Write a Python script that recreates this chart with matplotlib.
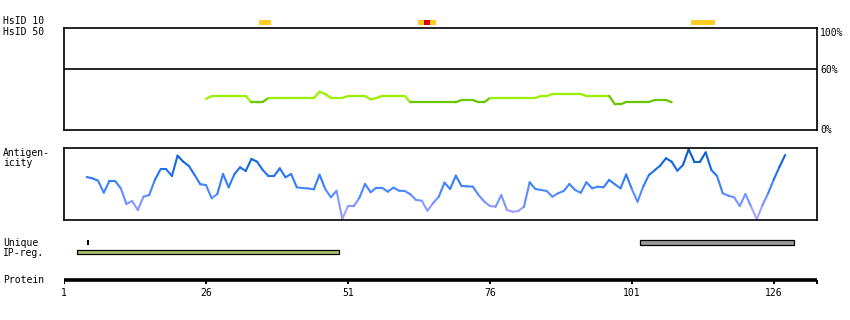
import numpy as np
import matplotlib
matplotlib.use('Agg')
import matplotlib.pyplot as plt
from matplotlib.collections import LineCollection
from matplotlib.colors import LinearSegmentedColormap, Normalize
from matplotlib.patches import Rectangle

# ---------------- data ----------------
protein_len = 133
x_end = 133.6
tick_positions = [1, 26, 51, 76, 101, 126]

# HsID 10 hits (residue intervals)
hsid10_low = [(35.3, 37.4), (63.3, 66.5), (111.4, 115.6)]
hsid10_high = [(64.4, 65.4)]

# HsID 50 identity (%) for residues 26..108
hsid50_start = 26
hsid50_values = [30.4] + [33.3] * 7 + [27.2, 27.2, 27.5] + [31.4] * 9 + [37.5, 35.3] \
    + [31.4] * 3 + [33.3] * 4 + [30.0, 31.4] + [33.3] * 5 + [27.2] * 9 + [29.4] * 3 \
    + [27.2] * 2 + [31.4] * 9 + [33.3] * 2 + [35.3] * 6 + [33.3] * 5 + [25.2] * 2 \
    + [27.5] * 5 + [29.4] * 3 + [27.2]
hsid50_threshold = 29.8

# Antigenicity (0-100 scale) for residues 5..128
antigen_start = 5
antigen_values = [
    59.7, 57.9, 54.6, 37.9, 54.2, 54.2, 44.0, 22.2, 26.4, 13.9,
    32.4, 34.7, 55.6, 70.4, 70.4, 61.1, 89.3, 81.0, 75.0, 62.5,
    49.6, 48.6, 30.1, 36.1, 63.9, 45.4, 63.5, 73.2, 68.1, 84.7,
    81.0, 69.4, 61.1, 61.1, 71.8, 59.3, 63.9, 45.4, 44.4, 43.8,
    42.6, 62.9, 43.1, 31.5, 40.7, 1.4, 19.0, 19.0, 30.6, 50.0,
    38.5, 44.9, 44.9, 39.3, 44.9, 40.7, 40.3, 35.7, 27.8, 26.8,
    12.9, 23.6, 32.4, 51.8, 43.1, 61.5, 47.2, 46.8, 46.3, 34.7,
    25.7, 19.4, 18.5, 34.7, 13.9, 11.5, 12.5, 18.5, 52.4, 43.1,
    41.7, 40.3, 32.4, 37.1, 40.3, 50.0, 41.7, 37.9, 52.4, 44.0,
    46.3, 45.4, 55.6, 49.6, 44.0, 63.2, 42.8, 25.4, 46.5, 62.5,
    69.0, 75.7, 85.7, 81.0, 68.5, 76.4, 98.2, 81.0, 81.0, 94.0,
    69.4, 61.1, 37.1, 33.8, 31.5, 19.4, 36.1, 18.5, 1.0, 20.6,
    37.1, 56.5, 74.0, 90.3,
]

unique_marks = [5.3]
unique_regions = [(102.5, 129.5)]
ip_regions = [(3.3, 49.5)]

# ---------------- figure ----------------
W, H = 850, 320
fig = plt.figure(figsize=(W / 100, H / 100), dpi=100)
fig.patch.set_facecolor('white')
FONT = dict(family='DejaVu Sans Mono', fontsize=7, color='black')

X0, X1 = 64, 817


def add_ax(top, bottom, left=X0, right=X1):
    return fig.add_axes([left / W, 1 - bottom / H, (right - left) / W, (bottom - top) / H])


def ftext(x, y, s, ha='left', **kw):
    fig.text(x / W, 1 - y / H, s, ha=ha, va='center', **FONT, **kw)


# HsID 10 row
ax_h = add_ax(19, 26)
ax_h.set_xlim(1, x_end)
ax_h.set_ylim(0, 7)
ax_h.axis('off')
for s, e in hsid10_low:
    ax_h.add_patch(Rectangle((s, 1), e - s, 5, facecolor='#ffcc22', edgecolor='none'))
for s, e in hsid10_high:
    ax_h.add_patch(Rectangle((s, 1), e - s, 5, facecolor='#dd0000', edgecolor='none'))

# HsID 50 panel
ax1 = add_ax(28, 130)
ax1.set_xlim(1, x_end)
ax1.set_ylim(0, 100)
ax1.set_xticks([])
ax1.set_yticks([])
for sp in ax1.spines.values():
    sp.set_linewidth(1.2)
ax1.axhline(60, color='black', lw=1.2)
hx = np.arange(hsid50_start, hsid50_start + len(hsid50_values))
hy = np.array(hsid50_values)
segs = [[(hx[i], hy[i]), (hx[i + 1], hy[i + 1])] for i in range(len(hx) - 1)]
cols = ['#99f000' if (hy[i] + hy[i + 1]) / 2 > hsid50_threshold else '#66c800'
        for i in range(len(hx) - 1)]
ax1.add_collection(LineCollection(segs, colors=cols, linewidths=1.6, capstyle='round'))

# Antigenicity panel
ax2 = add_ax(148, 220)
ax2.set_xlim(1, x_end)
ax2.set_ylim(0, 100)
ax2.set_xticks([])
ax2.set_yticks([])
for sp in ax2.spines.values():
    sp.set_linewidth(1.2)
ax_x = np.arange(antigen_start, antigen_start + len(antigen_values))
ay = np.array(antigen_values)
cmap = LinearSegmentedColormap.from_list(
    'ag', ['#bbaaff', '#8899ff', '#4a88ff', '#2a77f5', '#1166dd', '#0052bb'])
norm = Normalize(0, 100)
segs = [[(ax_x[i], ay[i]), (ax_x[i + 1], ay[i + 1])] for i in range(len(ax_x) - 1)]
cols = [cmap(norm((ay[i] + ay[i + 1]) / 2)) for i in range(len(ax_x) - 1)]
ax2.add_collection(LineCollection(segs, colors=cols, linewidths=1.5, capstyle='round'))

# Unique / IP-reg rows
ax3 = add_ax(236, 258)
ax3.set_xlim(1, x_end)
ax3.set_ylim(258, 236)
ax3.axis('off')
for m in unique_marks:
    ax3.vlines(m, 240, 245, color='black', lw=1.5)
for s, e in unique_regions:
    ax3.add_patch(Rectangle((s, 240.3), e - s, 4.4, facecolor='#999999',
                            edgecolor='black', lw=0.9))
for s, e in ip_regions:
    ax3.add_patch(Rectangle((s, 250), e - s, 4.4, facecolor='#a6c470',
                            edgecolor='black', lw=0.9))

# Protein axis
ax4 = add_ax(270, 300, right=X1 + 2)
ax4.set_xlim(1, x_end + 2 * (x_end - 1) / (X1 - X0))
ax4.set_ylim(300, 270)
ax4.axis('off')
ax4.hlines(280, 1, x_end, color='black', lw=2.6)
for t in tick_positions + [x_end]:
    ax4.vlines(t, 280, 284, color='black', lw=1.4)
for t in tick_positions:
    ax4.text(t, 292.5, str(t), ha='center', va='center', **FONT)

# Labels
ftext(3, 21.5, 'HsID 10')
ftext(3, 32, 'HsID 50')
ftext(820, 33, '100%')
ftext(820, 70, '60%')
ftext(820, 130, '0%')
ftext(3, 153, 'Antigen-')
ftext(3, 163, 'icity')
ftext(3, 242.5, 'Unique')
ftext(3, 253, 'IP-reg.')
ftext(3, 280, 'Protein')

fig.savefig('out.png', dpi=100, facecolor='white')
